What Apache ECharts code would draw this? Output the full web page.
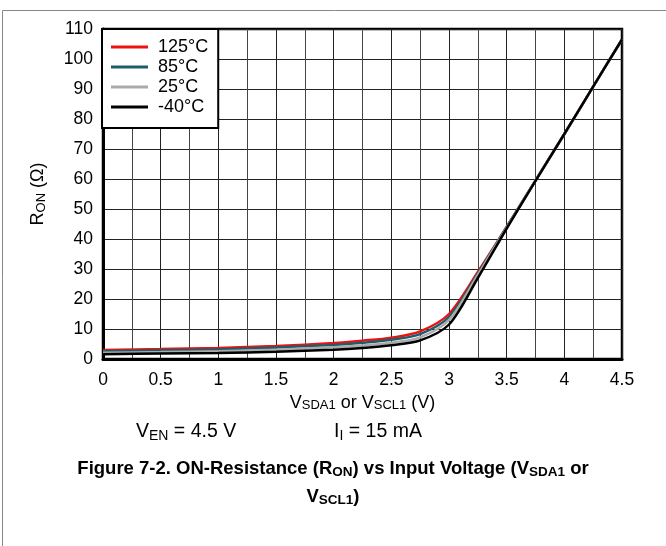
<!DOCTYPE html>
<html>
<head>
<meta charset="utf-8">
<script src="https://cdn.jsdelivr.net/npm/echarts@6/dist/echarts.min.js"></script>
<style>
  html, body { margin: 0; padding: 0; background: #fff; }
  #chart { width: 666px; height: 546px; }
</style>
</head>
<body>
<div id="chart"></div>
<script>
// input voltage (V)
const volts = [0, 0.5, 1.0, 1.5, 2.0, 2.25, 2.5, 2.75, 3.0, 3.25, 3.5, 3.75, 4.0, 4.25, 4.5]
// R_ON (ohm) per temperature
const ron125 = [3.0, 3.3, 3.7, 4.3, 5.3, 6.1, 7.1, 9.2, 15.0, 29.0, 44.0, 59.5, 75.0, 90.8, 106.5]
const ron85  = [2.6, 2.9, 3.2, 3.8, 4.7, 5.4, 6.4, 8.3, 14.0, 28.5, 44.0, 59.5, 75.0, 90.8, 106.5]
const ron25  = [2.1, 2.3, 2.6, 3.1, 3.9, 4.5, 5.4, 7.2, 13.0, 28.0, 43.8, 59.5, 75.0, 90.8, 106.5]
const ronM40 = [1.6, 1.8, 2.0, 2.4, 3.1, 3.7, 4.6, 6.2, 11.5, 27.0, 43.5, 59.4, 75.0, 90.8, 106.5]
const xTicks = [0, 0.5, 1, 1.5, 2, 2.5, 3, 3.5, 4, 4.5]

const chart = echarts.init(document.getElementById('chart'))

const FF = 'Liberation Sans'
const sub = { fontSize: 13, padding: [6, 0, 0, 0], fontFamily: FF, color: '#000' }
const txt = { n: { fontSize: 19.5, fill: '#000', fontFamily: FF }, s: { fontSize: 14, fill: '#000', padding: [8, 0, 0, 0], fontFamily: FF } }
const cap = { b: { fontSize: 18.5, fontWeight: 'bold', fill: '#000', fontFamily: FF }, bs: { fontSize: 13.5, fontWeight: 'bold', fill: '#000', padding: [7, 0, 0, 0], fontFamily: FF } }

function mk(name, vals, color) {
  return {
    name, type: 'line', data: volts.map((v, i) => [v, vals[i]]),
    smooth: 0.3, showSymbol: false,
    lineStyle: { color, width: 2.5 }, itemStyle: { color }
  }
}

chart.setOption({
  animation: false,
  textStyle: { fontFamily: FF },
  grid: { left: 103, right: 44, top: 29, bottom: 187, show: true, borderColor: '#000', borderWidth: 2.5 },
  legend: {
    orient: 'vertical', left: 102, top: 29,
    backgroundColor: '#fff', borderColor: '#000', borderWidth: 2,
    padding: [9, 10, 12, 9], itemGap: 2, itemWidth: 37, itemHeight: 3, itemTextGap: 10,
    icon: 'rect',
    textStyle: { fontSize: 18, color: '#000', fontFamily: FF, padding: [0, 0, 0, 5] },
    data: ['125°C', '85°C', '25°C', '-40°C']
  },
  xAxis: {
    type: 'value', min: 0, max: 4.5, interval: 0.5,
    name: '{n|V}{s|SDA1}{n| or V}{s|SCL1}{n| (V)}', nameLocation: 'middle', nameGap: 30,
    nameTextStyle: { rich: { n: { fontSize: 18, color: '#000', fontFamily: FF }, s: sub } },
    axisLine: { lineStyle: { color: '#000', width: 3 } },
    axisTick: { show: false },
    axisLabel: { fontSize: 17.5, color: '#000', margin: 12, formatter: v => xTicks.includes(v) ? String(v) : '' },
    splitLine: { lineStyle: { color: '#222', width: 1 } },
    minorTick: { show: false, splitNumber: 2 },
    minorSplitLine: { show: true, lineStyle: { color: '#444', width: 1 } }
  },
  yAxis: {
    type: 'value', min: 0, max: 110, interval: 10,
    name: '{n|R}{s|ON}{n| (Ω)}', nameLocation: 'middle', nameGap: 55, nameRotate: 90,
    nameTextStyle: { rich: { n: { fontSize: 18, color: '#000', fontFamily: FF }, s: sub } },
    axisLine: { show: true, lineStyle: { color: '#000', width: 3 } },
    axisTick: { show: false },
    axisLabel: { fontSize: 17.5, color: '#000', margin: 10 },
    splitLine: { lineStyle: { color: '#222', width: 1 } }
  },
  graphic: [
    { type: 'rect', left: 0, top: 8, shape: { width: 664, height: 560 }, style: { fill: 'none', stroke: '#888', lineWidth: 1 }, silent: true, z: -1 },
    { type: 'text', left: 136, top: 422, style: { text: '{n|V}{s|EN}{n| = 4.5 V}', rich: txt } },
    { type: 'text', left: 334, top: 422, style: { text: '{n|I}{s|I}{n| = 15 mA}', rich: txt } },
    { type: 'text', left: 'center', top: 459, style: {
      text: '{b|Figure 7-2. ON-Resistance (R}{bs|ON}{b|) vs Input Voltage (V}{bs|SDA1}{b| or}', rich: cap
    } },
    { type: 'text', left: 'center', top: 487, style: { text: '{b|V}{bs|SCL1}{b|)}', rich: cap } }
  ],
  series: [
    mk('125°C', ron125, '#ee1111'),
    mk('85°C', ron85, '#1d5c6a'),
    mk('25°C', ron25, '#aaaaaa'),
    mk('-40°C', ronM40, '#000000')
  ]
})
</script>
</body>
</html>
